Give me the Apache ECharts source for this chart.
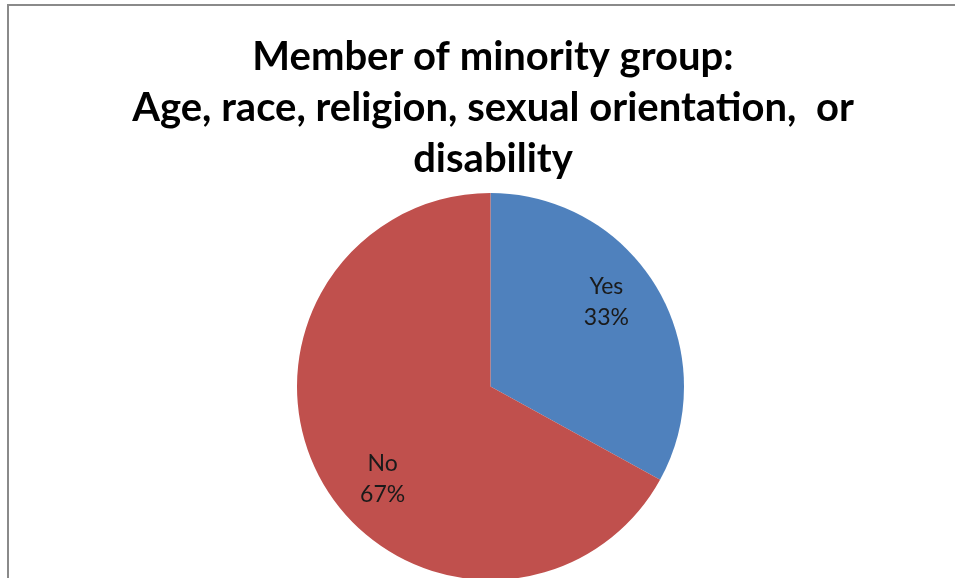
<!DOCTYPE html>
<html>
<head>
<meta charset="utf-8">
<script src="https://cdn.jsdelivr.net/npm/echarts@6/dist/echarts.min.js"></script>
<style>
html,body{margin:0;padding:0;background:#fff;overflow:hidden;}
#frame{position:absolute;left:7px;top:4px;width:1000px;height:1000px;border:2px solid #8a8a8a;box-sizing:border-box;}
#chart{position:absolute;left:0;top:0;width:955px;height:578px;}
</style>
</head>
<body>
<div id="frame"></div>
<div id="chart"></div>
<script>
const titleText = 'Member of minority group:\nAge, race, religion, sexual orientation,  or\ndisability';
const categories = ['Yes', 'No'];
const values = [33, 67];
const sliceColors = ['#4F81BD', '#C0504D'];
const labelShifts = [[30, -34], [-22, 42]];

const chart = echarts.init(document.getElementById('chart'), null, {renderer: 'canvas'});
chart.setOption({
  backgroundColor: 'transparent',
  animation: false,
  title: {
    text: titleText,
    left: 488,
    top: 27,
    textAlign: 'center',
    textStyle: {
      fontFamily: 'Lato',
      fontWeight: 'bold',
      fontSize: 40,
      lineHeight: 51,
      color: '#000'
    }
  },
  series: [{
    type: 'pie',
    center: [490.5, 386.5],
    radius: [0, 193.5],
    startAngle: 90,
    clockwise: true,
    silent: true,
    itemStyle: {borderWidth: 0},
    label: {
      show: true,
      position: 'inside',
      formatter: function (p) { return p.name + '\n' + p.value + '%'; },
      fontFamily: 'Lato',
      fontSize: 23,
      lineHeight: 31,
      color: '#1a1a1a'
    },
    labelLayout: function (params) {
      const s = labelShifts[params.dataIndex];
      return {dx: s[0], dy: s[1]};
    },
    data: categories.map(function (c, i) {
      return {name: c, value: values[i], itemStyle: {color: sliceColors[i]}};
    })
  }]
});
</script>
</body>
</html>
